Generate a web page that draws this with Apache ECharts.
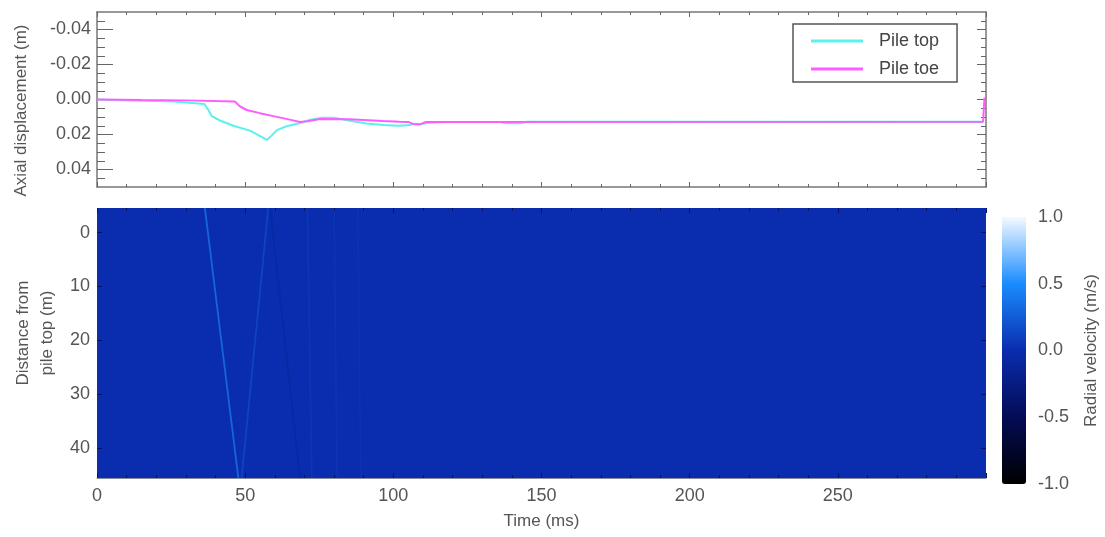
<!DOCTYPE html>
<html><head><meta charset="utf-8">
<script src="https://cdn.jsdelivr.net/npm/echarts@6/dist/echarts.min.js"></script>
<style>html,body{margin:0;padding:0;background:#fff}#c{width:1105px;height:537px}</style>
</head><body><div id="c"></div>
<script>
// ---- top panel: axial displacement (m) vs time (ms)
const pileTopTime = [0, 10, 20, 26, 31, 36.2, 37.6, 38.7, 41.5, 46, 51.6, 56, 57.3, 59, 60.7, 64, 68.5, 72, 76, 80, 85.4, 91, 96.6, 102, 105.6, 107, 109, 112, 115, 118, 136, 138, 143, 145, 299];
const pileTopDisp = [0, 0.0005, 0.0008, 0.0012, 0.0019, 0.0026, 0.006, 0.0095, 0.012, 0.015, 0.0178, 0.0218, 0.0231, 0.0205, 0.0175, 0.0153, 0.0134, 0.0116, 0.0104, 0.0104, 0.0122, 0.0137, 0.0146, 0.015, 0.0146, 0.0138, 0.0142, 0.0133, 0.013, 0.0128, 0.0128, 0.0136, 0.0136, 0.0127, 0.0127];
const pileToeTime = [0, 15, 30, 46.5, 48.3, 50.5, 55, 59.5, 65, 68.5, 71, 75.3, 85, 96.6, 102, 105, 107, 109, 111, 299, 299.5];
const pileToeDisp = [0, 0.0003, 0.0005, 0.0012, 0.004, 0.006, 0.0078, 0.0095, 0.0115, 0.0128, 0.0124, 0.0112, 0.0113, 0.0123, 0.0127, 0.0128, 0.0142, 0.0142, 0.0128, 0.0127, -0.0012];
const dispTicks = [-0.04, -0.02, 0, 0.02, 0.04];
const dispMinorTicks = [-0.045, -0.035, -0.03, -0.025, -0.015, -0.01, -0.005, 0.005, 0.01, 0.015, 0.025, 0.03, 0.035, 0.045];
const timeTicks = [0, 50, 100, 150, 200, 250];

// ---- bottom panel: radial velocity (m/s) field, time (ms) x distance from pile top (m)
const fieldTimeEdges = [0, 300];
const fieldDepthEdges = [-4.6, 45.6];
const fieldVelocity = [0.0];
const waveTopTime = [36.4, 57.8, 58.4, 71, 80, 88];
const waveBottomTime = [47.7, 48.8, 68.5, 72.5, 81, 89];
const waveVelocity = [0.3, 0.12, -0.06, 0.05, 0.04, 0.03];
const depthTicks = [0, 10, 20, 30, 40];
const velocityTicks = [-1, -0.5, 0, 0.5, 1];

const FONT = "'Liberation Sans', Arial, sans-serif";
const TXT = '#555';

const fieldData = [];
for (let i = 0; i < fieldVelocity.length; i++) {
  fieldData.push([fieldTimeEdges[i], fieldDepthEdges[0], fieldTimeEdges[i + 1], fieldDepthEdges[1], fieldVelocity[i]]);
}
const waveData = waveTopTime.map((t, i) => [t, fieldDepthEdges[0], waveBottomTime[i], fieldDepthEdges[1], waveVelocity[i]]);

const frame = { show: true, onZero: false, lineStyle: { color: '#777', width: 1.5 } };
const noLine = { show: false, onZero: false };
const tickStyle = { color: '#666', width: 1 };
const darkTick = { color: '#061460', width: 1 };

const chart = echarts.init(document.getElementById('c'), null, { renderer: 'canvas' });
chart.setOption({
  animation: false,
  backgroundColor: '#fff',
  textStyle: { fontFamily: FONT },
  grid: [
    { left: 97, top: 12, width: 889, height: 175, outerBoundsMode: 'none' },
    { left: 97, top: 208, width: 889, height: 270, outerBoundsMode: 'none' },
    { left: 1002, top: 217, width: 24, height: 267, outerBoundsMode: 'none' }
  ],
  legend: {
    data: ['Pile top', 'Pile toe'],
    orient: 'vertical', left: 793, top: 24,
    padding: [7, 18, 3, 18],
    borderColor: '#555', borderWidth: 1.5,
    itemWidth: 52, itemHeight: 3, itemGap: 8, icon: 'rect',
    selectedMode: false,
    textStyle: { fontSize: 18, lineHeight: 20, color: '#444', fontFamily: FONT, padding: [0, 0, 0, 11] }
  },
  xAxis: [
    { gridIndex: 0, type: 'value', min: 0, max: 300, interval: 50, position: 'bottom',
      axisLine: frame, axisLabel: { show: false }, splitLine: { show: false },
      axisTick: { inside: true, length: 5, lineStyle: tickStyle },
      minorTick: { show: true, splitNumber: 5, length: 3, lineStyle: tickStyle } },
    { gridIndex: 0, type: 'value', min: 0, max: 300, interval: 50, position: 'top',
      axisLine: frame, axisLabel: { show: false }, splitLine: { show: false },
      axisTick: { inside: true, length: 5, lineStyle: tickStyle },
      minorTick: { show: true, splitNumber: 5, length: 3, lineStyle: tickStyle } },
    { gridIndex: 1, type: 'value', min: 0, max: 300, interval: 50, position: 'bottom', z: 5,
      axisLine: { show: true, onZero: false, lineStyle: { color: '#8a8aa0', width: 1 } },
      axisLabel: { customValues: timeTicks, fontSize: 18, color: TXT, margin: 9, fontFamily: FONT },
      splitLine: { show: false },
      axisTick: { inside: true, length: 5, lineStyle: darkTick },
      minorTick: { show: true, splitNumber: 5, length: 3, lineStyle: darkTick },
      name: 'Time (ms)', nameLocation: 'middle', nameGap: 35,
      nameTextStyle: { fontSize: 17, color: TXT, fontFamily: FONT } },
    { gridIndex: 1, type: 'value', min: 0, max: 300, interval: 50, position: 'top', z: 5,
      axisLine: noLine, axisLabel: { show: false }, splitLine: { show: false },
      axisTick: { inside: true, length: 5, lineStyle: darkTick },
      minorTick: { show: true, splitNumber: 5, length: 3, lineStyle: darkTick } },
    { gridIndex: 2, type: 'value', min: 0, max: 1, show: false }
  ],
  yAxis: [
    { gridIndex: 0, type: 'value', min: -0.05, max: 0.05, inverse: true, position: 'left',
      axisLine: frame, splitLine: { show: false },
      axisLabel: { customValues: dispTicks, formatter: v => v.toFixed(2), fontSize: 18, color: TXT, margin: 6, fontFamily: FONT },
      axisTick: { customValues: dispTicks, inside: true, length: 16, lineStyle: tickStyle },
      name: 'Axial displacement (m)', nameLocation: 'middle', nameGap: 67, nameRotate: 90,
      nameTextStyle: { fontSize: 17, color: TXT, fontFamily: FONT, padding: [0, 22, 0, 0] } },
    { gridIndex: 0, type: 'value', min: -0.05, max: 0.05, inverse: true, position: 'left',
      axisLine: noLine, axisLabel: { show: false }, splitLine: { show: false },
      axisTick: { customValues: dispMinorTicks, inside: true, length: 8, lineStyle: tickStyle } },
    { gridIndex: 0, type: 'value', min: -0.05, max: 0.05, inverse: true, position: 'right',
      axisLine: frame, axisLabel: { show: false }, splitLine: { show: false },
      axisTick: { customValues: dispTicks, inside: true, length: 9, lineStyle: tickStyle } },
    { gridIndex: 0, type: 'value', min: -0.05, max: 0.05, inverse: true, position: 'right',
      axisLine: noLine, axisLabel: { show: false }, splitLine: { show: false },
      axisTick: { customValues: dispMinorTicks, inside: true, length: 5, lineStyle: tickStyle } },
    { gridIndex: 1, type: 'value', min: fieldDepthEdges[0], max: fieldDepthEdges[1], inverse: true, position: 'left', z: 5,
      axisLine: noLine, splitLine: { show: false },
      axisLabel: { customValues: depthTicks, fontSize: 18, color: TXT, margin: 7, fontFamily: FONT },
      axisTick: { customValues: depthTicks, inside: true, length: 5, lineStyle: darkTick },
      name: 'Distance from\npile top (m)', nameLocation: 'middle', nameGap: 36, nameRotate: 90,
      nameTextStyle: { fontSize: 17, lineHeight: 24, color: TXT, fontFamily: FONT, padding: [0, 0, 0, 20] } },
    { gridIndex: 1, type: 'value', min: fieldDepthEdges[0], max: fieldDepthEdges[1], inverse: true, position: 'right', z: 5,
      axisLine: noLine, splitLine: { show: false }, axisLabel: { show: false },
      axisTick: { customValues: depthTicks, inside: true, length: 5, lineStyle: darkTick } },
    { gridIndex: 2, type: 'value', min: -1, max: 1, position: 'right',
      axisLine: noLine, splitLine: { show: false }, axisTick: { show: false },
      axisLabel: { customValues: velocityTicks, formatter: v => v.toFixed(1), fontSize: 18, color: TXT, margin: 12, fontFamily: FONT },
      name: 'Radial velocity (m/s)', nameLocation: 'middle', nameGap: 57, nameRotate: 90,
      nameTextStyle: { fontSize: 17, color: TXT, fontFamily: FONT } }
  ],
  visualMap: {
    type: 'continuous', min: -1, max: 1, dimension: 4, seriesIndex: [2, 3],
    orient: 'vertical', left: 1002, top: 217, itemWidth: 24, itemHeight: 267,
    padding: 0, calculable: false, realtime: false, hoverLink: false,
    text: null, showLabel: false,
    inRange: { color: ['#000000', '#030c55', '#0a2cae', '#1a8cff', '#f4faff'] }
  },
  series: [
    { name: 'Pile top', type: 'line', xAxisIndex: 0, yAxisIndex: 0,
      data: pileTopTime.map((t, i) => [t, pileTopDisp[i]]),
      showSymbol: false, symbol: 'none', lineStyle: { color: '#5cf0f0', width: 2 }, itemStyle: { color: '#5cf0f0' } },
    { name: 'Pile toe', type: 'line', xAxisIndex: 0, yAxisIndex: 0,
      data: pileToeTime.map((t, i) => [t, pileToeDisp[i]]),
      showSymbol: false, symbol: 'none', lineStyle: { color: '#ff5cff', width: 2 }, itemStyle: { color: '#ff5cff' } },
    { name: 'field', type: 'custom', xAxisIndex: 2, yAxisIndex: 4, clip: true,
      data: fieldData, encode: { x: [0, 2], y: [1, 3] },
      renderItem: (params, api) => {
        const p0 = api.coord([api.value(0), api.value(1)]);
        const p1 = api.coord([api.value(2), api.value(3)]);
        return { type: 'rect',
          shape: { x: Math.min(p0[0], p1[0]), y: Math.min(p0[1], p1[1]), width: Math.abs(p1[0] - p0[0]), height: Math.abs(p1[1] - p0[1]) },
          style: { fill: api.visual('color') } };
      } },
    { name: 'waves', type: 'custom', xAxisIndex: 2, yAxisIndex: 4, clip: true,
      data: waveData, encode: { x: [0, 2], y: [1, 3] },
      renderItem: (params, api) => {
        const p0 = api.coord([api.value(0), api.value(1)]);
        const p1 = api.coord([api.value(2), api.value(3)]);
        return { type: 'line',
          shape: { x1: p0[0], y1: p0[1], x2: p1[0], y2: p1[1] },
          style: { stroke: api.visual('color'), lineWidth: 1.8 } };
      } }
  ]
});
</script>
</body></html>
